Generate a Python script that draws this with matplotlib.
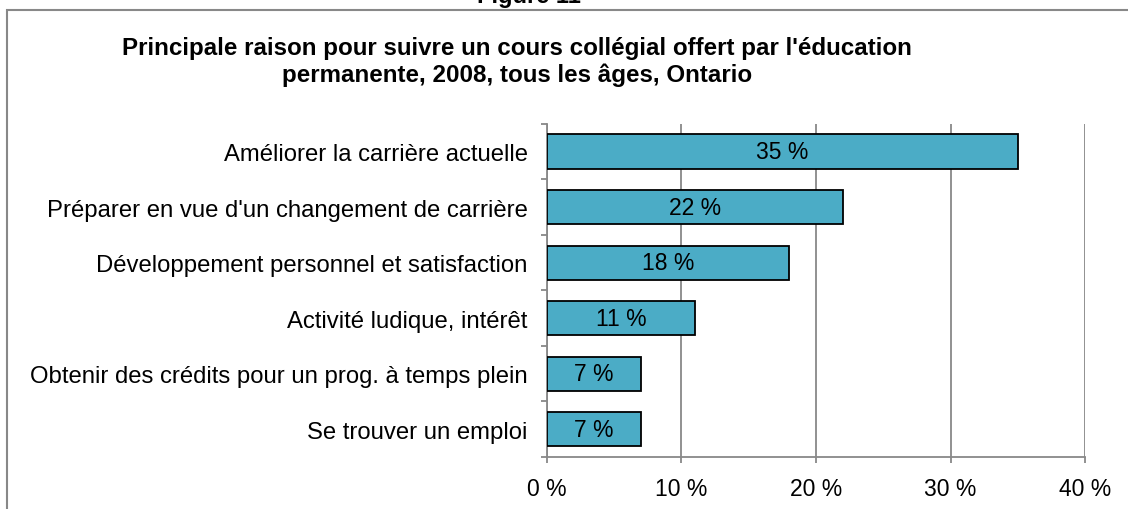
import matplotlib.pyplot as plt
from matplotlib.patches import Rectangle
import numpy as np

plt.rcParams['font.family'] = ['Liberation Sans', 'DejaVu Sans']

categories = [
    "Améliorer la carrière actuelle",
    "Préparer en vue d'un changement de carrière",
    "Développement personnel et satisfaction",
    "Activité ludique, intérêt",
    "Obtenir des crédits pour un prog. à temps plein",
    "Se trouver un emploi",
]
values = [35, 22, 18, 11, 7, 7]
x_ticks = [0, 10, 20, 30, 40]

fig = plt.figure(figsize=(11.28, 5.10), dpi=100)
ax = fig.add_axes([0.4849, 0.102, 0.477, 0.653])

y = np.arange(len(categories))
bars = ax.barh(y, values, height=0.62, color='#4BACC6', edgecolor='black',
               linewidth=1.3, zorder=3)
for b, v in zip(bars, values):
    ax.text(v / 2, b.get_y() + b.get_height() / 2, f"{v} %",
            ha='center', va='center', fontsize=16.5, zorder=4)

ax.set_ylim(len(categories) - 0.5, -0.5)
ax.set_xlim(0, 40)
ax.set_yticks(y)
ax.set_yticklabels(categories, fontsize=17.2)
ax.set_yticks(np.arange(-0.5, len(categories)), minor=True)
ax.tick_params(axis='y', which='major', length=0, pad=14)
ax.tick_params(axis='y', which='minor', length=4, width=1.3, color='#888888',
               direction='out')

ax.set_xticks(x_ticks)
ax.set_xticklabels([f"{t} %" for t in x_ticks], fontsize=16.5)
ax.tick_params(axis='x', length=4.5, width=1.3, color='#888888', pad=10)

ax.grid(axis='x', color='#888888', linewidth=1.3, zorder=0)
for s in ['top', 'right']:
    ax.spines[s].set_visible(False)
for s in ['left', 'bottom']:
    ax.spines[s].set_color('#888888')
    ax.spines[s].set_linewidth(1.3)

# outer frame
fig.patches.append(Rectangle((7 / 1128, -0.1), 1.2, 1 - 11 / 510 + 0.1,
                             transform=fig.transFigure, fill=False,
                             edgecolor='#888888', linewidth=1.5))

fig.text(0.469, 1 - 3 / 510, "Figure 11", ha='center', va='baseline',
         fontsize=17, fontweight='bold')
fig.text(0.458, 1 - 82 / 510,
         "Principale raison pour suivre un cours collégial offert par l'éducation\n"
         "permanente, 2008, tous les âges, Ontario",
         ha='center', va='baseline', fontsize=17.4, fontweight='bold',
         linespacing=1.2)

fig.savefig("out.png", dpi=100)
